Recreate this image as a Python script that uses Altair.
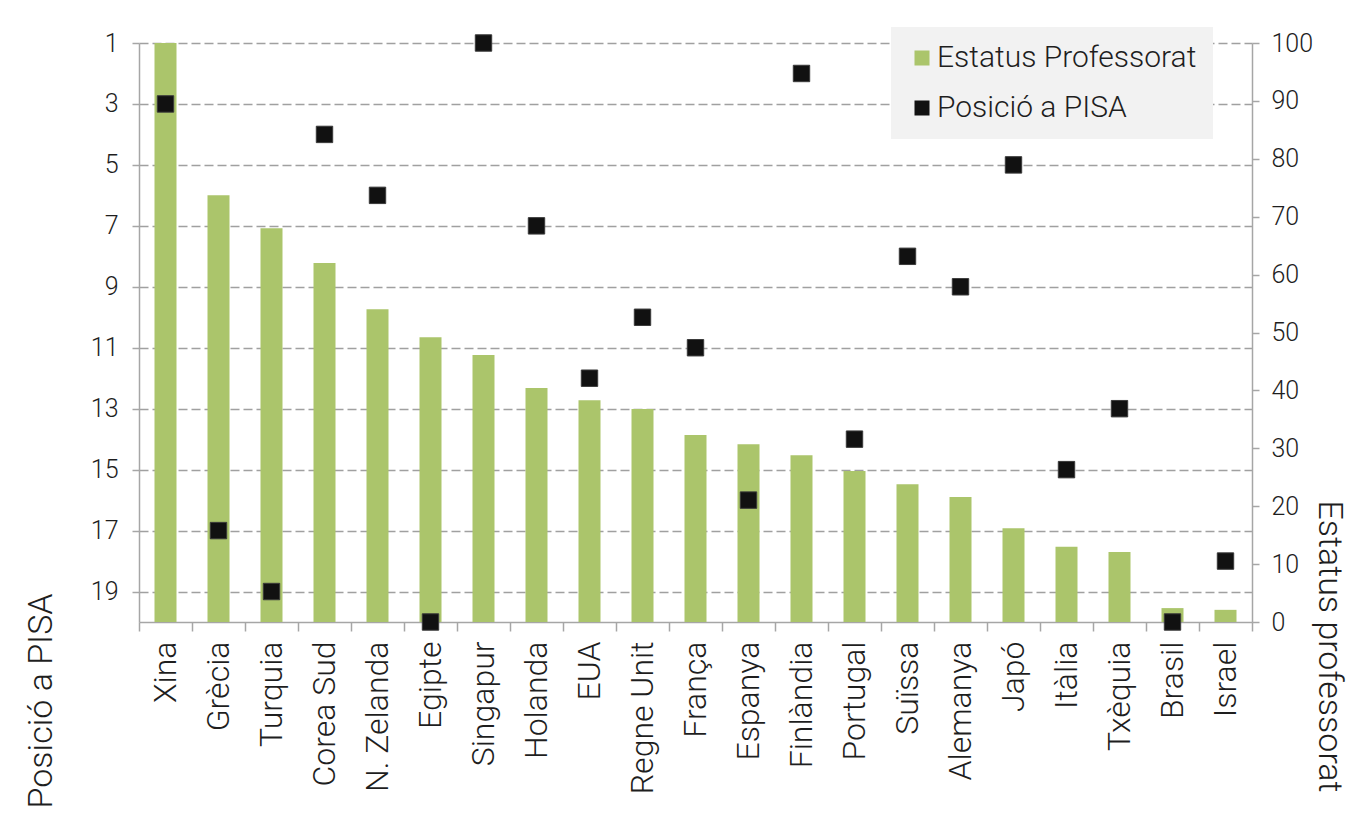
import altair as alt
import pandas as pd

# ---- data ----
countries = ["Xina", "Grècia", "Turquia", "Corea Sud", "N. Zelanda", "Egipte",
             "Singapur", "Holanda", "EUA", "Regne Unit", "França", "Espanya",
             "Finlàndia", "Portugal", "Suïssa", "Alemanya", "Japó", "Itàlia",
             "Txèquia", "Brasil", "Israel"]
estatus = [100, 73.7, 68.0, 62.0, 54.0, 49.2, 46.1, 40.4, 38.3, 36.8, 32.3,
           30.7, 28.8, 26.1, 23.8, 21.6, 16.2, 13.0, 12.1, 2.4, 2.1]
posicio_pisa = [3, 17, 19, 4, 6, 20, 1, 7, 12, 10, 11, 16, 2, 14, 8, 9, 5,
                15, 13, 20, 18]

series_names = ["Estatus Professorat", "Posició a PISA"]
series_colors = ["#abc56b", "#111111"]
left_ticks = [1, 3, 5, 7, 9, 11, 13, 15, 17, 19]
right_ticks = [0, 10, 20, 30, 40, 50, 60, 70, 80, 90, 100]

df = pd.DataFrame({"pais": countries, "estatus": estatus, "pisa": posicio_pisa})

FONT = "Roboto"
TXT = "#1e1e1e"
AX = "#a6a6a6"

x_enc = alt.X(
    "pais:N",
    sort=countries,
    scale=alt.Scale(paddingInner=0, paddingOuter=0),
    axis=alt.Axis(
        title=None,
        labelAngle=270,
        labelFontSize=32,
        labelLimit=400,
        bandPosition=1,
        tickExtra=True,
        tickSize=9,
        labelPadding=10,
    ),
)

color_enc = alt.Color(
    "serie:N",
    scale=alt.Scale(domain=series_names, range=series_colors),
    legend=alt.Legend(
        title=None,
        orient="none",
        legendX=752,
        legendY=-16,
        fillColor="#f2f2f2",
        padding=16,
        labelFontSize=30,
        labelFont=FONT,
        labelFontWeight=300,
        labelColor=TXT,
        labelOffset=0,
        symbolType="square",
        symbolSize=225,
        symbolStrokeWidth=0,
        rowPadding=20,
        labelLimit=400,
    ),
)

bars = (
    alt.Chart(df)
    .transform_calculate(serie="'Estatus Professorat'")
    .mark_bar(width=22)
    .encode(
        x=x_enc,
        y=alt.Y(
            "estatus:Q",
            scale=alt.Scale(domain=[0, 100], nice=False),
            axis=alt.Axis(
                orient="right",
                values=right_ticks,
                grid=False,
                tickSize=7,
                labelPadding=12,
                labelFontSize=25,
                title="Estatus professorat",
                titleFontSize=34,
                titleAngle=90,
                titleAlign="left",
                titleBaseline="middle",
                titleX=76,
                titleY=457,
            ),
        ),
        color=color_enc,
    )
)

points = (
    alt.Chart(df)
    .transform_calculate(serie="'Posició a PISA'")
    .mark_square(size=270, opacity=1, filled=True, stroke="#3a3a3a", strokeWidth=1)
    .encode(
        x=x_enc,
        y=alt.Y(
            "pisa:Q",
            scale=alt.Scale(domain=[1, 20], reverse=True, nice=False, zero=False),
            axis=alt.Axis(
                orient="left",
                values=left_ticks,
                grid=True,
                gridDash=[9, 4],
                gridColor="#a0a0a0",
                gridWidth=1.5,
                tickSize=7,
                labelPadding=14,
                labelFontSize=25,
                title="Posició a PISA",
                titleFontSize=34,
                titleAngle=270,
                titleAlign="left",
                titleBaseline="middle",
                titleX=-98,
                titleY=765,
            ),
        ),
        color=color_enc,
    )
)

chart = (
    alt.layer(bars, points)
    .resolve_scale(y="independent")
    .properties(
        width=1113,
        height=579,
        autosize=alt.AutoSizeParams(type="none"),
        padding={"left": 131, "top": 35, "right": 100, "bottom": 190},
        background="white",
    )
    .configure_view(stroke=None)
    .configure_axis(
        labelFont=FONT,
        titleFont=FONT,
        labelFontWeight=300,
        titleFontWeight=300,
        labelColor=TXT,
        titleColor=TXT,
        domainColor=AX,
        tickColor=AX,
        domainWidth=1.5,
        tickWidth=1.5,
        grid=False,
    )
)

chart.save("out.html", embed_options={"renderer": "svg", "actions": False})
